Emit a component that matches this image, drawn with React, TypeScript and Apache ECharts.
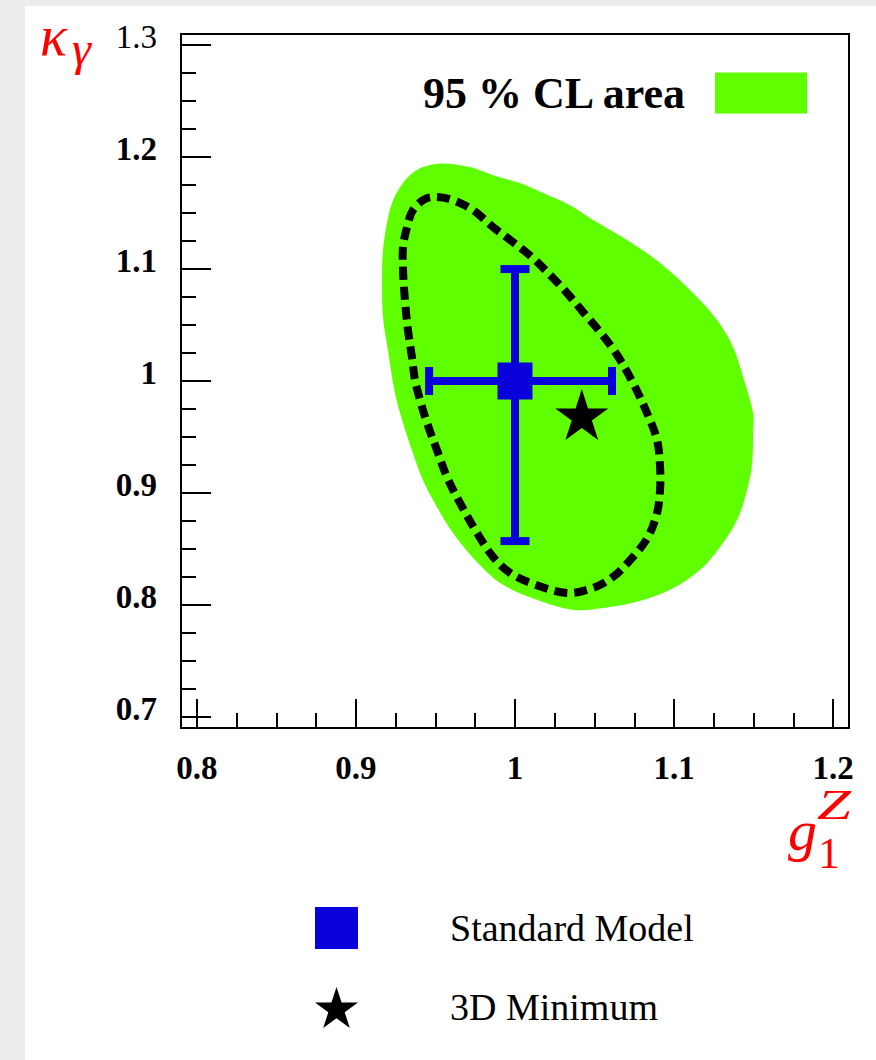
import React, { useEffect, useRef } from 'react';
import * as echarts from 'echarts';

// ---- data ----
const xMajorTicks = [0.8, 0.9, 1, 1.1, 1.2];
const xMinorTicks = [0.825, 0.85, 0.875, 0.925, 0.95, 0.975, 1.025, 1.05, 1.075, 1.125, 1.15, 1.175];
const yMajorTicks = [0.7, 0.8, 0.9, 1, 1.1, 1.2, 1.3];
const yMinorTicks = [0.725, 0.75, 0.775, 0.825, 0.85, 0.875, 0.925, 0.95, 0.975, 1.025, 1.05, 1.075, 1.125, 1.15, 1.175, 1.225, 1.25, 1.275];

// 95 % CL area outline (g1Z, kappa_gamma)
const areaG1Z = [0.9539, 0.9717, 0.9862, 1.0031, 1.0176, 1.0346, 1.0491, 1.0704, 1.0912, 1.1119, 1.127, 1.1371, 1.1434, 1.1497, 1.1497, 1.1491, 1.1459, 1.1396, 1.1289, 1.1164, 1.0975, 1.0767, 1.0553, 1.0365, 1.0138, 0.9925, 0.9761, 0.961, 0.9509, 0.9421, 0.9358, 0.9296, 0.9245, 0.9201, 0.917, 0.9164, 0.917, 0.9195, 0.9226, 0.9277, 0.934, 0.9421];
const areaKappa = [1.1944, 1.1911, 1.1839, 1.1768, 1.1679, 1.1571, 1.1438, 1.1259, 1.1054, 1.0786, 1.0545, 1.0304, 1.0036, 0.9714, 0.9563, 0.9268, 0.9027, 0.8759, 0.8518, 0.8313, 0.8134, 0.8027, 0.7973, 0.7955, 0.8045, 0.8179, 0.8384, 0.8643, 0.8875, 0.9116, 0.9357, 0.9625, 0.9893, 1.0277, 1.0571, 1.0929, 1.117, 1.1411, 1.1589, 1.1732, 1.1839, 1.1911];

// dashed inner contour
const contourG1Z = [0.9509, 0.961, 0.9736, 0.9862, 0.9987, 1.0113, 1.0239, 1.0327, 1.0428, 1.0535, 1.0642, 1.0742, 1.083, 1.0893, 1.0912, 1.0912, 1.0893, 1.0836, 1.0742, 1.0616, 1.0491, 1.0327, 1.0113, 0.9969, 0.9862, 0.9761, 0.9654, 0.9572, 0.9509, 0.9447, 0.9403, 0.9371, 0.9352, 0.9327, 0.9308, 0.9296, 0.9296, 0.9321, 0.9358, 0.9434];
const contourKappa = [1.1643, 1.1616, 1.1527, 1.1375, 1.1241, 1.1098, 1.092, 1.0786, 1.0616, 1.0438, 1.0232, 0.9982, 0.9714, 0.9473, 0.9232, 0.9027, 0.8821, 0.8607, 0.8429, 0.825, 0.8152, 0.8107, 0.8188, 0.8286, 0.8429, 0.8643, 0.8911, 0.9143, 0.9384, 0.9625, 0.983, 1.0009, 1.0214, 1.0455, 1.0723, 1.0991, 1.1196, 1.1375, 1.1527, 1.1625];

// Standard Model point and its bars
const smPoint = [1, 1];
const smG1ZRange = [0.946, 1.061];
const smKappaRange = [0.857, 1.1];
// 3D minimum
const minimumPoint = [1.042, 0.97];

const legendAreaName = '95 % CL area';
const legendSMName = 'Standard Model';
const legendMinName = '3D Minimum';

const GREEN = '#5fff00';
const BLUE = '#0a00dc';
const RED = '#ff0000';
const SERIF = '"Liberation Serif", "Times New Roman", serif';
const STAR = 'path://M50 0L61.23 34.55L97.55 34.55L68.16 55.9L79.39 90.45L50 69.1L20.61 90.45L31.84 55.9L2.45 34.55L38.77 34.55Z';

export default function App() {
  const ref = useRef<HTMLDivElement>(null);

  useEffect(() => {
    if (!ref.current) return;
    const chart = echarts.init(ref.current, undefined, { renderer: 'svg' });

    const areaData = areaG1Z.map((x, i) => [x, areaKappa[i]]);
    const contourData = contourG1Z.map((x, i) => [x, contourKappa[i]]);

    const tickLine = { color: '#000', width: 2 };
    const labelBase = { color: '#000', fontFamily: SERIF, fontSize: 33, fontWeight: 'bold' as const };

    const option: any = {
      animation: false,
      backgroundColor: 'transparent',
      grid: {
        left: 181, top: 34, width: 668, height: 694,
        show: true, borderColor: '#000', borderWidth: 2, backgroundColor: 'transparent',
        containLabel: false, outerBoundsMode: 'none',
      },
      xAxis: [
        {
          type: 'value', min: 0.79, max: 1.21, position: 'bottom',
          axisLine: { show: false }, splitLine: { show: false },
          axisTick: { show: true, inside: true, length: 29, lineStyle: tickLine, customValues: xMajorTicks },
          axisLabel: { ...labelBase, margin: 23, customValues: xMajorTicks, formatter: (v: number) => String(v) },
        },
        {
          type: 'value', min: 0.79, max: 1.21, position: 'bottom',
          axisLine: { show: false }, splitLine: { show: false },
          axisTick: { show: true, inside: true, length: 15, lineStyle: tickLine, customValues: xMinorTicks },
          axisLabel: { show: false },
        },
      ],
      yAxis: [
        {
          type: 'value', min: 0.69, max: 1.31, position: 'left',
          axisLine: { show: false }, splitLine: { show: false },
          axisTick: { show: true, inside: true, length: 30, lineStyle: tickLine, customValues: yMajorTicks },
          axisLabel: {
            ...labelBase, margin: 24, padding: [0, 0, 16, 0], customValues: yMajorTicks,
            formatter: (v: number) => (v === 1.3 ? '{r|1.3}' : String(v)),
            rich: { r: { color: '#000', fontFamily: SERIF, fontSize: 33, fontWeight: 'normal' } },
          },
        },
        {
          type: 'value', min: 0.69, max: 1.31, position: 'left',
          axisLine: { show: false }, splitLine: { show: false },
          axisTick: { show: true, inside: true, length: 15, lineStyle: tickLine, customValues: yMinorTicks },
          axisLabel: { show: false },
        },
      ],
      legend: [
        {
          data: [{ name: legendAreaName, icon: 'rect', itemStyle: { color: GREEN, opacity: 1 } }],
          align: 'right', right: 69, top: 71, padding: 0,
          itemWidth: 92, itemHeight: 41, selectedMode: false,
          textStyle: { color: '#000', fontFamily: SERIF, fontSize: 44, fontWeight: 'bold', padding: [0, 25, 6, 0] },
        },
        {
          data: [
            { name: legendSMName, icon: 'rect', itemStyle: { color: BLUE, opacity: 1 } },
            { name: legendMinName, icon: STAR, itemStyle: { color: '#000', opacity: 1 } },
          ],
          orient: 'vertical', left: 315, top: 907, padding: 0,
          itemWidth: 43, itemHeight: 42, itemGap: 38, selectedMode: false,
          textStyle: { color: '#000', fontFamily: SERIF, fontSize: 38, padding: [0, 0, 0, 87] },
        },
      ],
      series: [
        {
          name: legendAreaName,
          type: 'custom',
          coordinateSystem: 'cartesian2d',
          xAxisIndex: 0, yAxisIndex: 0,
          itemStyle: { color: GREEN },
          data: areaData,
          renderItem: (params: any, api: any) => {
            if (params.dataIndex !== 0) return null;
            const pts = areaData.map((p) => api.coord(p));
            return { type: 'polygon', shape: { points: pts, smooth: 0.35 }, style: { fill: GREEN, stroke: null } };
          },
        },
        {
          name: 'contour',
          type: 'custom',
          coordinateSystem: 'cartesian2d',
          xAxisIndex: 0, yAxisIndex: 0,
          itemStyle: { color: '#000' },
          data: contourData,
          renderItem: (params: any, api: any) => {
            if (params.dataIndex !== 0) return null;
            const pts = contourData.map((p) => api.coord(p));
            return {
              type: 'polygon',
              shape: { points: pts, smooth: 0.35 },
              style: { fill: 'none', stroke: '#000', lineWidth: 8, lineDash: [13, 7] },
            };
          },
        },
        {
          name: 'errors',
          type: 'custom',
          coordinateSystem: 'cartesian2d',
          xAxisIndex: 0, yAxisIndex: 0,
          itemStyle: { color: BLUE },
          data: [[smPoint[0], smPoint[1], smG1ZRange[0], smG1ZRange[1], smKappaRange[0], smKappaRange[1]]],
          renderItem: (params: any, api: any) => {
            const c = api.coord([api.value(0), api.value(1)]);
            const l = api.coord([api.value(2), api.value(1)]);
            const r = api.coord([api.value(3), api.value(1)]);
            const b = api.coord([api.value(0), api.value(4)]);
            const t = api.coord([api.value(0), api.value(5)]);
            const w = 8;
            const st = { fill: BLUE };
            return {
              type: 'group',
              children: [
                { type: 'rect', shape: { x: l[0], y: c[1] - w / 2, width: r[0] - l[0], height: w }, style: st },
                { type: 'rect', shape: { x: c[0] - w / 2, y: t[1], width: w, height: b[1] - t[1] }, style: st },
                { type: 'rect', shape: { x: t[0] - 14.5, y: t[1] - w / 2, width: 29, height: w }, style: st },
                { type: 'rect', shape: { x: b[0] - 14.5, y: b[1] - w / 2, width: 29, height: w }, style: st },
                { type: 'rect', shape: { x: l[0] - w / 2, y: l[1] - 14, width: w, height: 28 }, style: st },
                { type: 'rect', shape: { x: r[0] - w / 2, y: r[1] - 14, width: w, height: 28 }, style: st },
              ],
            };
          },
        },
        {
          name: legendSMName,
          type: 'scatter',
          xAxisIndex: 0, yAxisIndex: 0,
          symbol: 'rect', symbolSize: [35, 37],
          itemStyle: { color: BLUE, opacity: 1 },
          data: [smPoint],
        },
        {
          name: legendMinName,
          type: 'scatter',
          xAxisIndex: 0, yAxisIndex: 0,
          symbol: STAR, symbolSize: [53, 51],
          itemStyle: { color: '#000', opacity: 1 },
          data: [minimumPoint],
        },
      ],
      graphic: [
        { type: 'text', x: 40, y: 36, style: { text: 'κ', fill: RED, font: `italic 56px ${SERIF}`, align: 'left', verticalAlign: 'middle' } },
        { type: 'text', x: 72, y: 48, style: { text: 'γ', fill: RED, font: `italic 48px ${SERIF}`, align: 'left', verticalAlign: 'middle' } },
        { type: 'text', x: 788, y: 830.4, style: { text: 'g', fill: RED, font: `italic 58px ${SERIF}`, align: 'left', verticalAlign: 'middle' } },
        { type: 'text', x: 818, y: 853.2, style: { text: '1', fill: RED, font: `44px ${SERIF}`, align: 'left', verticalAlign: 'middle' } },
        { type: 'text', x: 817, y: 804.8, scaleX: 1.45, style: { text: 'Z', fill: RED, font: `italic 42px ${SERIF}`, align: 'left', verticalAlign: 'middle' } },
      ],
    };

    chart.setOption(option);
    return () => chart.dispose();
  }, []);

  return (
    <div style={{ position: 'fixed', left: 0, top: 0, width: 876, height: 1060, background: '#ebecee', overflow: 'hidden' }}>
      <div style={{ position: 'absolute', left: 25, top: 6, right: 0, bottom: 0, background: '#ffffff' }} />
      <div ref={ref} style={{ position: 'absolute', left: 0, top: 0, width: 876, height: 1060 }} />
    </div>
  );
}
